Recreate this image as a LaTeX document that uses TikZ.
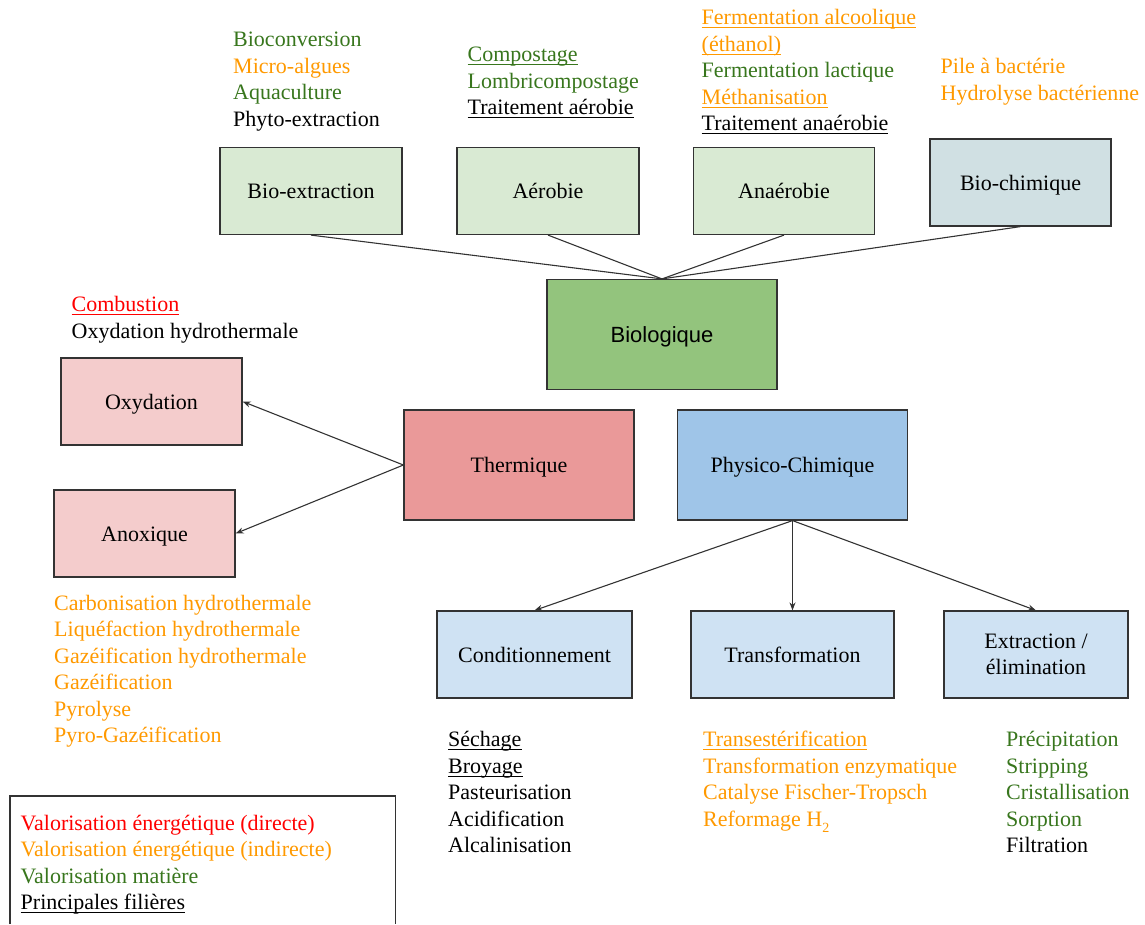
\documentclass[tikz,border=0pt]{standalone}
\usepackage{fontspec}
\setmainfont{Liberation Serif}
\newfontfamily\arialfont{Liberation Sans}
\usepackage{tikz}
\usetikzlibrary{arrows.meta}

\definecolor{vertval}{HTML}{38761D}
\definecolor{orangeval}{HTML}{FF9900}
\definecolor{rougeval}{HTML}{FF0000}
\definecolor{gris}{HTML}{333333}
\definecolor{bioclair}{HTML}{D9EAD3}
\definecolor{biochim}{HTML}{D0E0E3}
\definecolor{biovert}{HTML}{93C47D}
\definecolor{rose}{HTML}{F4CCCC}
\definecolor{rougeclair}{HTML}{EA9999}
\definecolor{bleu}{HTML}{9FC5E8}
\definecolor{bleuclair}{HTML}{CFE2F3}

\newcommand{\souligne}[1]{\setbox0\hbox{#1}\rlap{\rule[-3.5pt]{\wd0}{1.1pt}}\box0}
\newcommand{\vt}[1]{\textcolor{vertval}{#1}}
\newcommand{\og}[1]{\textcolor{orangeval}{#1}}
\newcommand{\rg}[1]{\textcolor{rougeval}{#1}}

\begin{document}
\begin{tikzpicture}[
        x = 1pt,
        y = -1pt,
        boite/.style = {
                draw = gris,
                line width = 1.2pt,
                fill = #1,
                minimum width = 182pt,
                minimum height = 87pt,
                inner sep = 0pt,
                text height = 17.5pt,
                text depth = 2pt,
                align = center,
                font = \fontsize{22}{26.5}\selectfont
            },
            boite/.default = white,
        liste/.style = {
                anchor = north west,
                inner sep = 0pt,
                align = left,
                font = \fontsize{22}{26.5}\selectfont
            },
        lien/.style = {draw = gris, line width = 1.1pt},
        fleche/.style = {lien, -{Stealth[length=8pt, width=6pt]}}
        ]
        \useasboundingbox (0,0) rectangle (1145,924);

        \node[boite=bioclair] (bioextraction) at (311,191) {Bio-extraction};
        \node[boite=bioclair] (aerobie) at (548,191) {Aérobie};
        \node[boite=bioclair, minimum width=181pt] (anaerobie) at (784,191) {Anaérobie};
        \node[boite=biochim, minimum width=181pt] (biochimique) at (1020.5,182.5) {Bio-chimique};
        \node[boite=biovert, minimum width=230pt, minimum height=110pt, font=\arialfont\fontsize{22}{26.5}\selectfont] (biologique) at (662,334.5) {Biologique};
        \node[boite=rose, minimum width=181pt] (oxydation) at (151.5,401.5) {Oxydation};
        \node[boite=rose, minimum width=181pt] (anoxique) at (144.5,533.5) {Anoxique};
        \node[boite=rougeclair, minimum width=230pt, minimum height=110pt] (thermique) at (519,465) {Thermique};
        \node[boite=bleu, minimum width=230pt, minimum height=110pt] (physico) at (792.5,465) {Physico-Chimique};
        \node[boite=bleuclair, minimum width=195pt] (conditionnement) at (534.5,654.5) {Conditionnement};
        \node[boite=bleuclair, minimum width=203pt] (transformation) at (792.5,654.5) {Transformation};
        \node[boite=bleuclair, minimum width=184pt, text height=, text depth=] (extraction) at (1036,654.5) {Extraction /\\élimination};

        \foreach \n in {bioextraction, aerobie, anaerobie, biochimique}
            \draw[lien] (biologique.north) -- (\n.south);
        \draw[fleche] (thermique.west) -- (oxydation.east);
        \draw[fleche] (thermique.west) -- (anoxique.east);
        \foreach \n in {conditionnement, transformation, extraction}
            \draw[fleche] (physico.south) -- (\n.north);

        \node[liste] (listebioextraction) at (233,28) {\strut\vt{Bioconversion}\\ \og{Micro-algues}\\ \vt{Aquaculture}\\ Phyto-extraction};
        \node[liste] (listeaerobie) at (467.5,43) {\strut\vt{\souligne{Compostage}}\\ \vt{Lombricompostage}\\ \souligne{Traitement aérobie}};
        \node[liste] (listeanaerobie) at (701.5,6) {\strut\og{\souligne{Fermentation alcoolique}}\\ \og{\souligne{(éthanol)}}\\ \vt{Fermentation lactique}\\ \og{\souligne{Méthanisation}}\\ \souligne{Traitement anaérobie}};
        \node[liste] (listebiochimique) at (940.5,55) {\strut\og{Pile à bactérie}\\ \og{Hydrolyse bactérienne}};
        \node[liste] (listeoxydation) at (71.5,293) {\strut\rg{\souligne{Combustion}}\\ Oxydation hydrothermale};
        \node[liste] (listeanoxique) at (54,591.5) {\strut\og{Carbonisation hydrothermale}\\ \og{Liquéfaction hydrothermale}\\ \og{Gazéification hydrothermale}\\ \og{Gazéification}\\ \og{Pyrolyse}\\ \og{Pyro-Gazéification}};
        \node[liste] (listeconditionnement) at (448,728) {\strut\souligne{Séchage}\\ \souligne{Broyage}\\ Pasteurisation\\ Acidification\\ Alcalinisation};
        \node[liste] (listetransformation) at (703,728) {\strut\og{\souligne{Transestérification}}\\ \og{Transformation enzymatique}\\ \og{Catalyse Fischer-Tropsch}\\ \og{Reformage H\raisebox{-6pt}{\fontsize{14}{14}\selectfont 2}}};
        \node[liste] (listeextraction) at (1006,728) {\strut\vt{Précipitation}\\ \vt{Stripping}\\ \vt{Cristallisation}\\ \vt{Sorption}\\ Filtration};

        \draw[lien] (10,924) |- (395.5,796) -- (395.5,924);
        \node[liste] (legende) at (20.5,811.5) {\strut\rg{Valorisation énergétique (directe)}\\ \og{Valorisation énergétique (indirecte)}\\ \vt{Valorisation matière}\\ \souligne{Principales filières}};
    \end{tikzpicture}
\end{document}
